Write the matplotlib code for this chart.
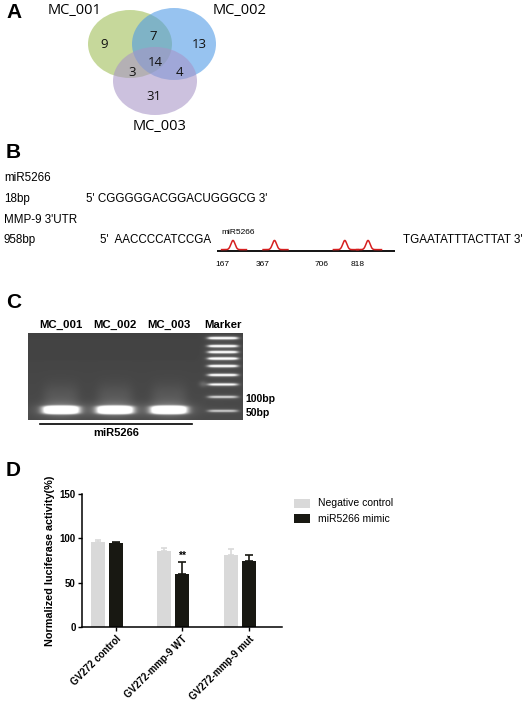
import numpy as np
import matplotlib
matplotlib.use("Agg")
import matplotlib.pyplot as plt
from matplotlib.patches import Ellipse

plt.rcParams['font.family'] = ['Liberation Sans', 'DejaVu Sans']

# ---------------- data ----------------
venn_labels = ["MC_001", "MC_002", "MC_003"]
venn_counts = {"100": 9, "010": 13, "001": 31, "110": 7, "101": 3, "011": 4, "111": 14}

mir_name = "miR5266"
mir_len = "18bp"
mir_seq = "5' CGGGGGACGGACUGGGCG 3'"
utr_name = "MMP-9 3'UTR"
utr_len = "958bp"
utr_5 = "5'  AACCCCATCCGA"
utr_3 = "TGAATATTTACTTAT 3'"
sites = [167, 367, 706, 818]

gel_lanes = ["MC_001", "MC_002", "MC_003", "Marker"]
sample_band_pos = [77, 77, 77]           # migration (px from well)
sample_band_int = [1.0, 1.0, 1.0]
marker_pos = [5, 13, 19, 25.5, 33, 42, 51.5, 64, 78]
marker_int = [0.95, 0.9, 0.9, 1.0, 0.9, 0.85, 0.75, 0.55, 0.5]
marker_labels = {"100bp": 64, "50bp": 78}

groups = ["GV272 control", "GV272-mmp-9 WT", "GV272-mmp-9 mut"]
neg_ctrl = [95.7, 86.0, 80.7]
neg_err = [1.9, 2.6, 7.5]
mimic = [95.0, 60.0, 74.6]
mimic_err = [1.2, 13.5, 6.8]
series_names = ["Negative control", "miR5266 mimic"]

W, H = 526, 705
fig = plt.figure(figsize=(W / 100, H / 100), dpi=100)
ov = fig.add_axes([0, 0, 1, 1])
ov.set_xlim(0, W)
ov.set_ylim(H, 0)
ov.axis("off")

def fa(x0, y0, x1, y1):
    return [x0 / W, 1 - y1 / H, (x1 - x0) / W, (y1 - y0) / H]

# panel letters
for lab, (x, y) in zip("ABCD", [(6, 13), (6, 152), (6, 303), (6, 470)]):
    ov.text(x, y, lab, fontsize=15, fontweight="bold", va="center", ha="left")

# ---------------- A: Venn ----------------
cols = [(0.62, 0.74, 0.33), (0.30, 0.60, 0.90), (0.66, 0.58, 0.78)]
centers = [(130, 44), (174, 44), (155, 81)]
radii = [(84, 68), (84, 72), (84, 68)]
for (c, (w, h), col) in zip(centers, radii, cols):
    ov.add_patch(Ellipse(c, w, h, facecolor=col, alpha=0.58, edgecolor="none", zorder=1))
num_pos = {"100": (104, 45), "010": (199, 45), "001": (154, 97), "110": (153, 37),
           "101": (132, 73), "011": (179, 73), "111": (155, 62)}
for k, v in venn_counts.items():
    ov.text(*num_pos[k], str(v), fontsize=9.5, ha="center", va="center",
            family=["Open Sans", "DejaVu Sans"], color="#111111", zorder=3)
for lab, (x, y) in zip(venn_labels, [(75, 11), (240, 11), (160, 127)]):
    ov.text(x, y, lab, fontsize=10.5, ha="center", va="center",
            family=["Open Sans", "DejaVu Sans"])

# ---------------- B: sequences ----------------
fsB = 8.4
ov.text(4, 178, mir_name, fontsize=fsB, va="center")
ov.text(4, 199, mir_len, fontsize=fsB, va="center")
ov.text(86, 199, mir_seq, fontsize=fsB, va="center")
ov.text(4, 220, utr_name, fontsize=fsB, va="center")
ov.text(4, 240, utr_len, fontsize=fsB, va="center")
ov.text(100, 240, utr_5, fontsize=fsB, va="center")
ov.text(403, 240, utr_3, fontsize=fsB, va="center")

axu = fig.add_axes(fa(217, 236, 395, 253))
axu.set_xlim(90, 948)
axu.set_ylim(-0.15, 1.0)
axu.axis("off")
axu.plot([90, 948], [0, 0], color="black", lw=1.3, zorder=1)
for s in sites:
    xx = np.linspace(s - 55, s + 65, 200)
    yy = 0.08 + 0.62 * np.exp(-((xx - s) / 14) ** 2)
    axu.plot(xx, yy, color="#d62020", lw=1.1, zorder=2)
ov.text(238, 233, mir_name, fontsize=6, ha="center", va="center")
for s, xpx in zip(sites, [222, 263, 322, 358]):
    ov.text(xpx, 265, str(s), fontsize=6, ha="center", va="center")

# ---------------- C: gel ----------------
axg = fig.add_axes(fa(28, 333, 243, 420))
gw, gh = 215, 87
res = 4
xg = np.linspace(-0.61, 3.37, gw * res)          # lane units
yg = np.linspace(0, gh, gh * res)                # px from top
X, Y = np.meshgrid(xg, yg)
img = np.full(X.shape, 0.26) + 0.03 * (Y / gh)
for i, (p, it) in enumerate(zip(sample_band_pos, sample_band_int)):
    dx = (X - i) * 54
    dy = Y - p
    core = np.exp(-(np.abs(dx) / 17.5) ** 4) * np.exp(-(dy / 4.0) ** 4)
    halo = np.exp(-(np.abs(dx) / 22) ** 2) * np.exp(-(dy / 7) ** 2)
    smear = np.exp(-(np.abs(dx) / 18) ** 4) * np.exp(-((dy + 12) / 14) ** 2) * (dy < 0)
    img += it * (1.3 * core + 0.25 * halo + 0.07 * smear)
for p, it in zip(marker_pos, marker_int):
    dx = (X - 3) * 54
    dy = Y - p
    img += it * np.exp(-(np.abs(dx) / 15) ** 6) * np.exp(-(dy / 1.2) ** 2)
    img += it * 0.12 * np.exp(-(np.abs(dx) / 17) ** 4) * np.exp(-(dy / 3.0) ** 2)
img += 0.12 * np.exp(-(((X - 2.63) * 54) / 4) ** 2 - ((Y - 51) / 3) ** 2)
img = np.clip(img, 0, 1)
axg.imshow(img, cmap="gray", vmin=0, vmax=1, extent=[-0.61, 3.37, gh, 0],
           aspect="auto", interpolation="bilinear")
axg.set_xlim(-0.61, 3.37)
axg.set_ylim(gh, 0)
axg.set_xticks([])
axg.set_yticks([])
for sp in axg.spines.values():
    sp.set_visible(False)
gel_font = ["Liberation Sans Narrow", "Liberation Sans", "DejaVu Sans"]
for i, lab in enumerate(gel_lanes):
    axg.text(i, -3, lab, fontsize=8.2, fontweight="bold", ha="center", va="bottom",
             family=gel_font)
for lab, p in marker_labels.items():
    axg.text(3.42, p + 2, lab, fontsize=7.5, fontweight="bold", ha="left", va="center",
             family=gel_font)
ov.plot([40, 192], [424, 424], color="black", lw=1.2)
ov.text(116, 433, mir_name, fontsize=8, fontweight="bold", ha="center", va="center",
        family=gel_font)

# ---------------- D: bar chart ----------------
axd = fig.add_axes(fa(82, 494, 282, 627))
x = np.arange(len(groups))
bw, off = 0.21, 0.136
light, dark = "#d9d9d9", "#181812"
axd.bar(x - off, neg_ctrl, bw, color=light, zorder=2)
axd.bar(x + off, mimic, bw, color=dark, zorder=2)
axd.errorbar(x - off, neg_ctrl, yerr=[np.zeros(3), neg_err], fmt="none", ecolor=light,
             elinewidth=1.2, capsize=2.5, capthick=1.2, zorder=1)
axd.errorbar(x + off, mimic, yerr=[np.zeros(3), mimic_err], fmt="none", ecolor=dark,
             elinewidth=1.2, capsize=3, capthick=1.2, zorder=1)
axd.text(1 + off, mimic[1] + mimic_err[1] + 1.5, "**", ha="center", va="bottom",
         fontsize=7.5, fontweight="bold")
axd.set_xlim(-0.377, 2.64)
axd.set_ylim(0, 150)
axd.set_yticks([0, 50, 100, 150])
axd.set_xticks(x + off)
axd.set_xticklabels(groups, rotation=45, ha="right", rotation_mode="anchor",
                    fontsize=7, fontweight="bold")
for t in axd.get_yticklabels():
    t.set_fontweight("bold")
axd.tick_params(axis="y", labelsize=7, length=3, width=1, pad=1.5)
axd.tick_params(axis="x", length=3, width=1, pad=2)
for sp in ["top", "right"]:
    axd.spines[sp].set_visible(False)
for sp in ["left", "bottom"]:
    axd.spines[sp].set_linewidth(1.1)
axd.set_ylabel("Normalized luciferase activity(%)", fontsize=7.8, fontweight="bold", labelpad=3)

# legend
for name, col, y in zip(series_names, [light, dark], [503.5, 518.5]):
    ov.add_patch(plt.Rectangle((294, y - 4.5), 16, 9, facecolor=col, edgecolor="none"))
    ov.text(318, y, name, fontsize=7.5, va="center", ha="left")

fig.savefig("out.png", dpi=100)
